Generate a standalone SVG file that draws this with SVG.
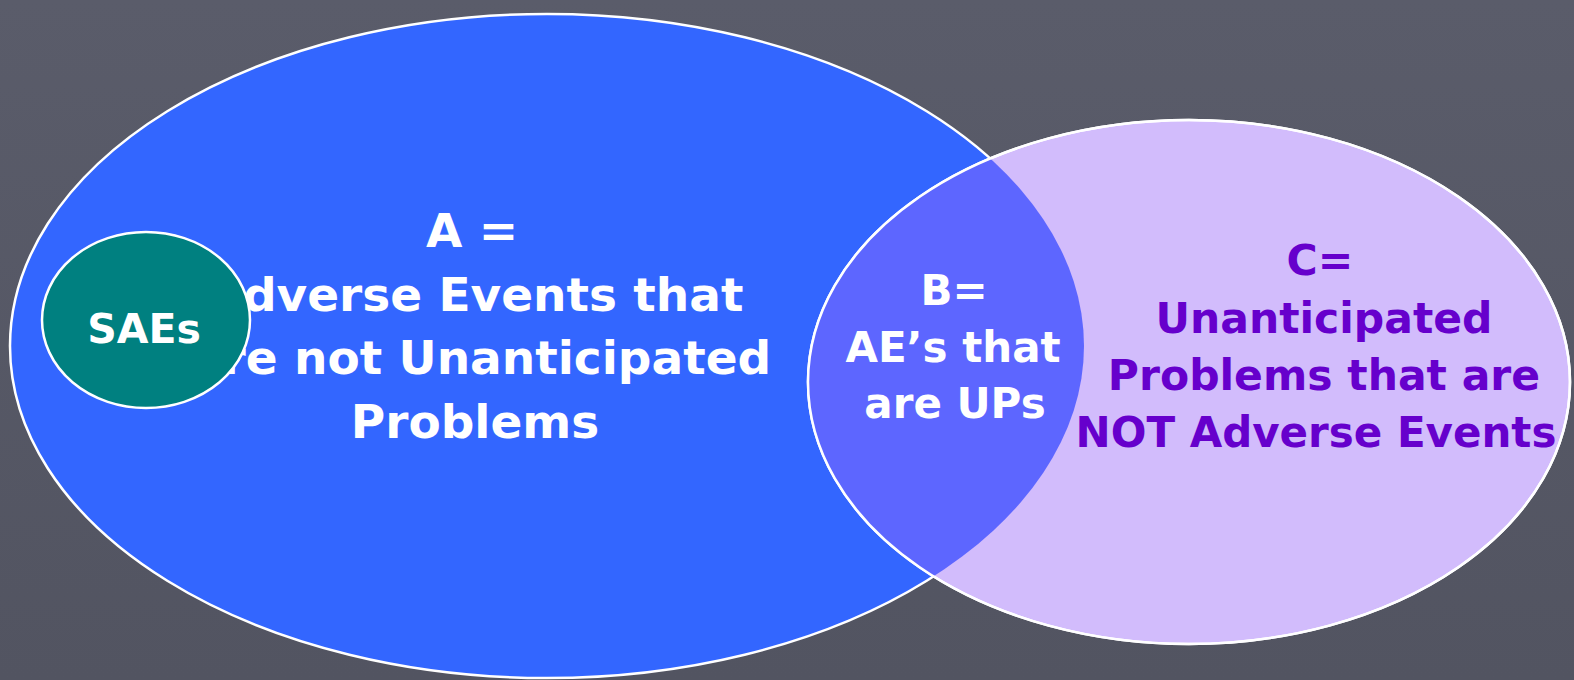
<svg xmlns="http://www.w3.org/2000/svg" width="1574" height="680" viewBox="0 0 1574 680">
<style>
.t{font-family:"DejaVu Sans","Liberation Sans",sans-serif;font-weight:bold;text-anchor:middle}
.w{fill:#ffffff}
.p{fill:#6600cc}
.edge{stroke:#ffffff;stroke-width:2.5}
</style>
<defs>
<linearGradient id="bg" x1="0" y1="0" x2="0" y2="1">
<stop offset="0" stop-color="#5a5c6a"/>
<stop offset="1" stop-color="#525461"/>
</linearGradient>
<clipPath id="clipC"><ellipse cx="1189" cy="382" rx="381" ry="262"/></clipPath>
</defs>
<rect x="0" y="0" width="1574" height="680" fill="url(#bg)"/>
<g id="connectors"></g>
<g id="nodeA">
<ellipse cx="547" cy="346" rx="537" ry="332" fill="#3366ff" class="edge"/>
<text class="t w" font-size="47" x="472" y="247">A =</text>
<text class="t w" font-size="47" x="475" y="311">Adverse Events that</text>
<text class="t w" font-size="47" x="481" y="374">are not Unanticipated</text>
<text class="t w" font-size="47" x="475" y="438">Problems</text>
</g>
<g id="nodeC">
<ellipse cx="1189" cy="382" rx="381" ry="262" fill="#d2bcfc" class="edge"/>
<text class="t p" font-size="42.5" x="1320" y="275">C=</text>
<text class="t p" font-size="42.5" x="1324" y="333">Unanticipated</text>
<text class="t p" font-size="42.5" x="1324" y="390">Problems that are</text>
<text class="t p" font-size="42" x="1316" y="447">NOT Adverse Events</text>
</g>
<g id="nodeB">
<ellipse cx="547" cy="346" rx="537" ry="332" fill="#5d66ff" clip-path="url(#clipC)"/>
<ellipse cx="1189" cy="382" rx="381" ry="262" fill="none" class="edge"/>
<text class="t w" font-size="42" x="954" y="305">B=</text>
<text class="t w" font-size="42" x="953" y="362">AE’s that</text>
<text class="t w" font-size="42" x="955" y="418">are UPs</text>
</g>
<g id="nodeSAEs">
<ellipse cx="146" cy="320" rx="104" ry="88" fill="#008080" class="edge"/>
<text class="t w" font-size="41" x="144" y="343">SAEs</text>
</g>
</svg>
